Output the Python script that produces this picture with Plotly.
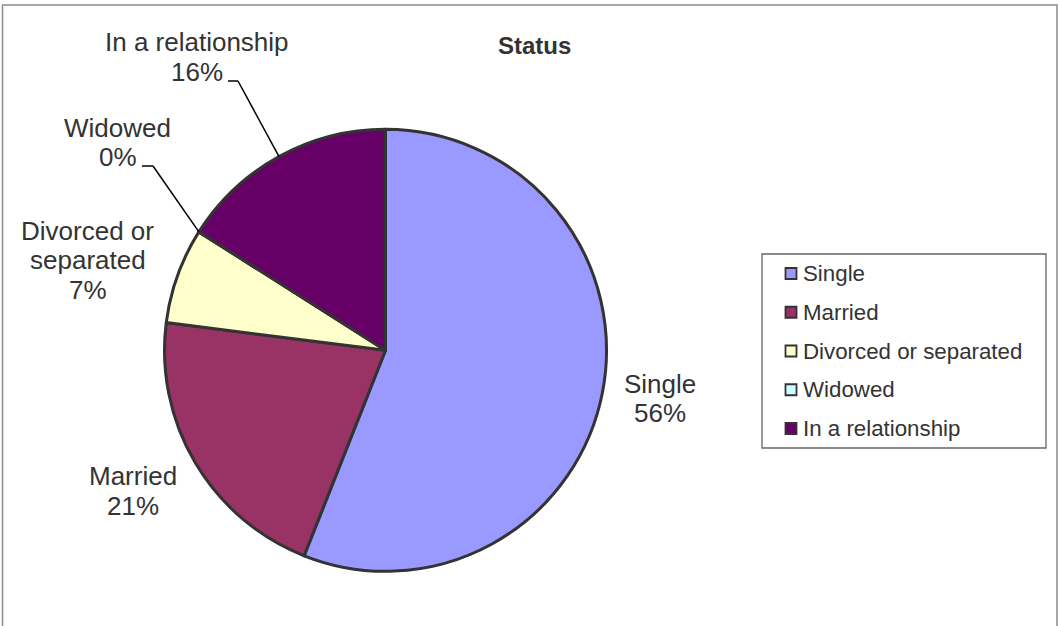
import math
import plotly.graph_objects as go

# Relationship status breakdown (percent of respondents)
categories = ["Single", "Married", "Divorced or separated", "Widowed", "In a relationship"]
percent = [56, 21, 7, 0, 16]
slice_colors = ["#9999FF", "#993366", "#FFFFCC", "#CCFFFF", "#660066"]

# Label text as shown beside the pie (line breaks follow each category)
label_lines = {
    "Single": ["Single"],
    "Married": ["Married"],
    "Divorced or separated": ["Divorced or", "separated"],
    "Widowed": ["Widowed"],
    "In a relationship": ["In a relationship"],
}

W, H = 1059, 626
CX, CY, R = 385.5, 350.3, 221.0          # pie centre and radius in pixels
TEXT = "#333333"
FONT = "Liberation Sans, Arial, sans-serif"


def px(x):
    return x / W


def py(y):
    return 1 - y / H


# Label placement (pixel centre of the first line) and leader elbows
label_pos = {
    "Single": (660, 384),
    "Married": (132.5, 476),
    "Divorced or separated": (87.5, 231),
    "Widowed": (117.5, 127.5),
    "In a relationship": (196.5, 42.5),
}
leader = {
    "Widowed": (142, 153, 166),            # x start, elbow x, y of the short tick
    "In a relationship": (228, 238, 81),
}
LINE_GAP = 29.5

fig = go.Figure()
fig.add_trace(go.Pie(
    labels=categories,
    values=percent,
    sort=False,
    direction="clockwise",
    rotation=0,
    marker=dict(colors=slice_colors, line=dict(color="#333333", width=3)),
    textinfo="none",
    hoverinfo="label+percent",
    showlegend=False,
    domain=dict(x=[px(CX - R), px(CX + R)], y=[py(CY + R), py(CY - R)]),
))

annotations = []
shapes = []

# Data labels: category name(s) followed by the percentage
total = sum(percent)
cum = 0.0
for cat, val in zip(categories, percent):
    mid = (cum + val / 2) / total * 2 * math.pi
    start = cum / total * 2 * math.pi
    cum += val
    lines = label_lines[cat] + [f"{round(100 * val / total)}%"]
    lx, ly = label_pos[cat]
    for i, line in enumerate(lines):
        annotations.append(dict(
            x=px(lx), y=py(ly + i * LINE_GAP), xref="paper", yref="paper",
            text=line, showarrow=False, xanchor="center", yanchor="middle",
            font=dict(family=FONT, size=26, color=TEXT),
        ))
    if cat in leader:
        x0, xe, ye = leader[cat]
        ang = mid if val > 0 else start
        ex = CX + R * math.sin(ang)
        ey = CY - R * math.cos(ang)
        shapes.append(dict(type="line", xref="paper", yref="paper",
                           x0=px(x0), y0=py(ye), x1=px(xe), y1=py(ye),
                           line=dict(color="black", width=1.5)))
        shapes.append(dict(type="line", xref="paper", yref="paper",
                           x0=px(xe), y0=py(ye), x1=px(ex), y1=py(ey),
                           line=dict(color="black", width=1.5)))

# Title
annotations.append(dict(
    x=px(534.5), y=py(46), xref="paper", yref="paper", text="<b>Status</b>",
    showarrow=False, xanchor="center", yanchor="middle",
    font=dict(family=FONT, size=24, color=TEXT),
))

# Legend box with swatches
LEG_L, LEG_T, LEG_R, LEG_B = 762, 254, 1046, 448
shapes.append(dict(type="rect", xref="paper", yref="paper",
                   x0=px(LEG_L), y0=py(LEG_B), x1=px(LEG_R), y1=py(LEG_T),
                   line=dict(color="#666666", width=1.3), fillcolor="rgba(0,0,0,0)"))
ROW0, ROW_STEP = 273.5, 38.75
for i, (cat, col) in enumerate(zip(categories, slice_colors)):
    cy = ROW0 + i * ROW_STEP
    shapes.append(dict(type="rect", xref="paper", yref="paper",
                       x0=px(785.5), y0=py(cy + 5.5), x1=px(796.5), y1=py(cy - 5.5),
                       line=dict(color="#333333", width=1.8), fillcolor=col))
    annotations.append(dict(
        x=px(801), y=py(cy), xref="paper", yref="paper", text=cat,
        showarrow=False, xanchor="left", yanchor="middle",
        font=dict(family=FONT, size=22.3, color=TEXT),
    ))

# Chart area frame
shapes.append(dict(type="rect", xref="paper", yref="paper",
                   x0=px(2.5), y0=py(640), x1=px(1057), y1=py(5),
                   line=dict(color="#8c8c8c", width=1.5), fillcolor="rgba(0,0,0,0)"))

fig.update_layout(
    width=W, height=H,
    margin=dict(l=0, r=0, t=0, b=0),
    paper_bgcolor="white",
    plot_bgcolor="white",
    annotations=annotations,
    shapes=shapes,
    showlegend=False,
)

fig.write_html("out.html")
